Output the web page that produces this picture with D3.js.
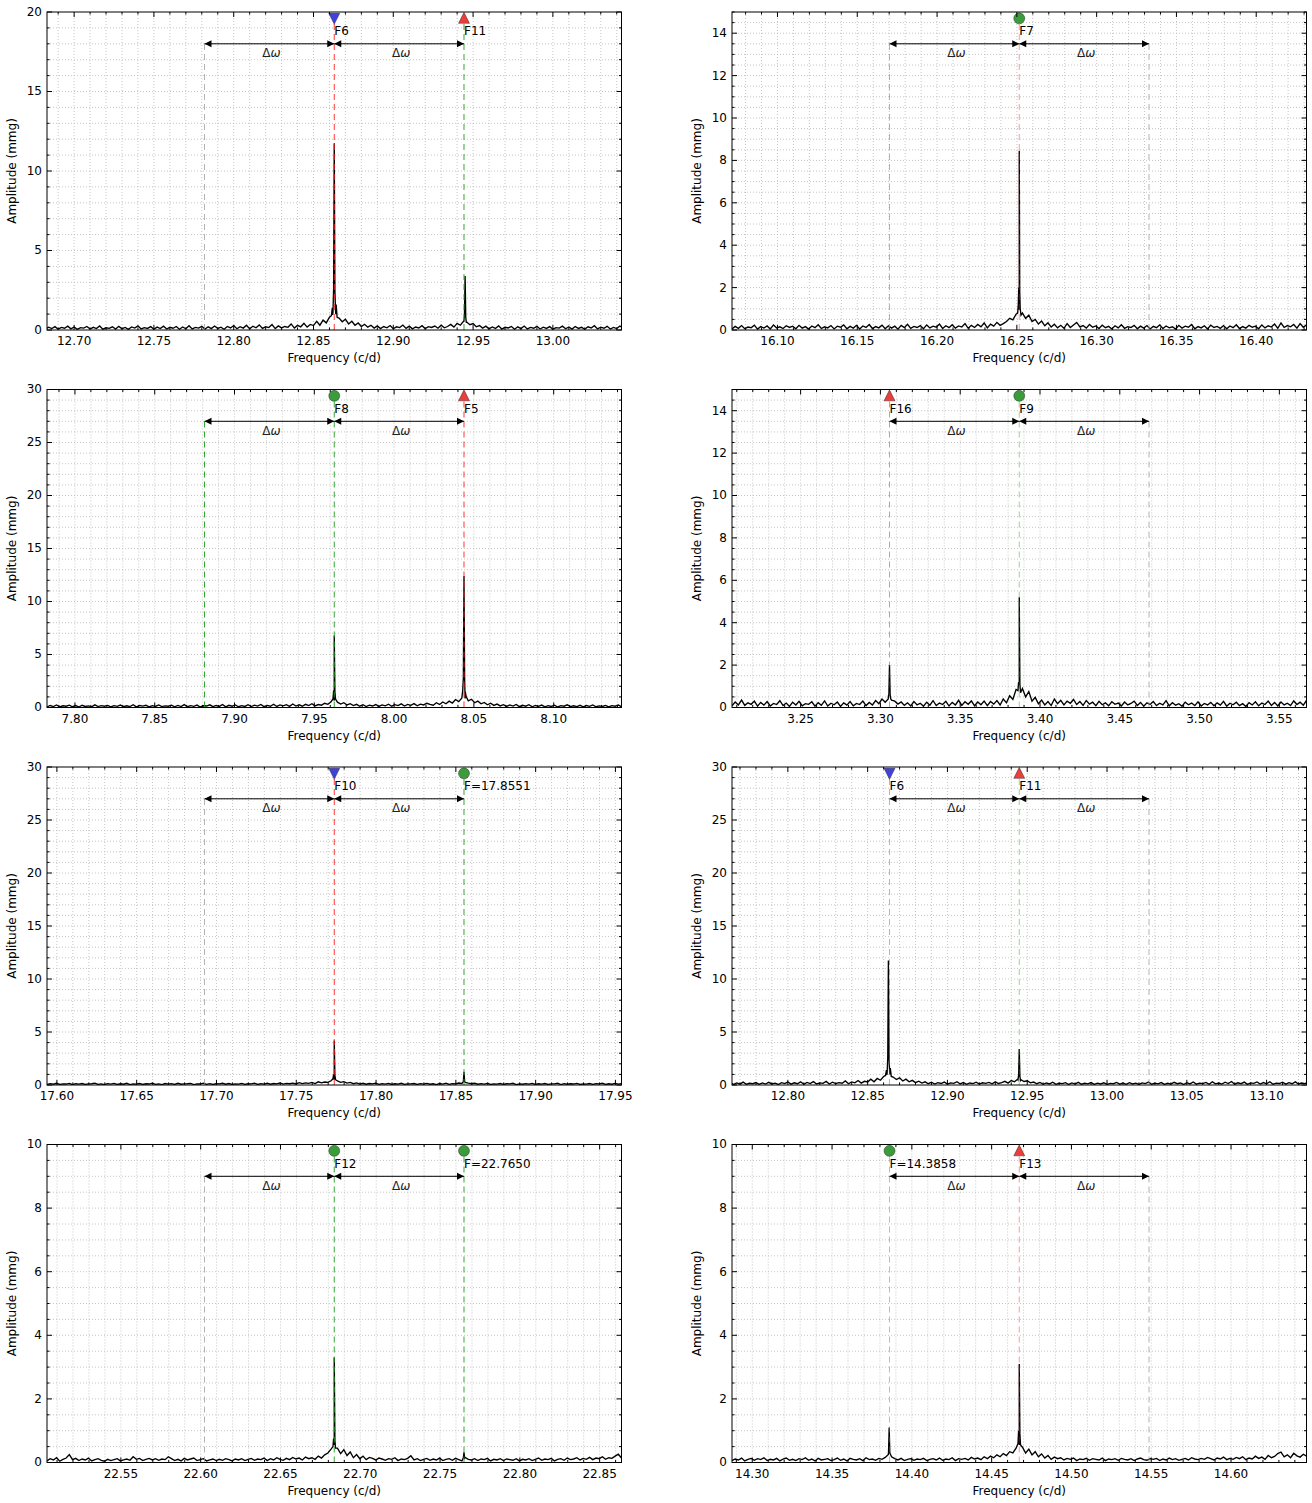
<!DOCTYPE html>
<html><head><meta charset="utf-8">
<script src="https://cdn.jsdelivr.net/npm/d3@7"></script>
<style>body{margin:0;background:#fff}svg{display:block}text{font-family:"DejaVu Sans",sans-serif}</style>
</head><body><svg id="c" width="1312" height="1503"></svg>
<script>
// ---------------- DATA ----------------
const DELTA_OMEGA = 0.0813;
const HALF_SPAN = 0.18;
const CENTERS = [12.863, 16.2515, 7.9625, 3.387, 17.7738, 12.945, 22.6837, 14.4673];
const Y_MAX = [20, 15, 30, 15, 30, 30, 10, 10];
const Y_STEP = [5, 2, 5, 2, 5, 5, 2, 2];
const X_TICKS = [
  ["12.70","12.75","12.80","12.85","12.90","12.95","13.00"],
  ["16.10","16.15","16.20","16.25","16.30","16.35","16.40"],
  ["7.80","7.85","7.90","7.95","8.00","8.05","8.10"],
  ["3.25","3.30","3.35","3.40","3.45","3.50","3.55"],
  ["17.60","17.65","17.70","17.75","17.80","17.85","17.90","17.95"],
  ["12.80","12.85","12.90","12.95","13.00","13.05","13.10"],
  ["22.55","22.60","22.65","22.70","22.75","22.80","22.85"],
  ["14.30","14.35","14.40","14.45","14.50","14.55","14.60"]
];
// dashed line kinds at center-Δω, center, center+Δω
const LINE_KINDS = [
  ["grey","red","green"], ["grey","red","grey"], ["green","green","red"], ["blue","green","grey"],
  ["grey","red","green"], ["red","green","grey"], ["grey","green","green"], ["green","red","grey"]
];
// markers: [slot (-1,0,1), shape, colour, label]
const MARKERS = [
  [[0,"down","blue","F6"],[1,"up","red","F11"]],
  [[0,"circle","green","F7"]],
  [[0,"circle","green","F8"],[1,"up","red","F5"]],
  [[-1,"up","red","F16"],[0,"circle","green","F9"]],
  [[0,"down","blue","F10"],[1,"circle","green","F=17.8551"]],
  [[-1,"down","blue","F6"],[0,"up","red","F11"]],
  [[0,"circle","green","F12"],[1,"circle","green","F=22.7650"]],
  [[-1,"circle","green","F=14.3858"],[0,"up","red","F13"]]
];
const SPEC_STEP = 0.002;
const SPEC_START = [12.682, 16.0715, 7.7825, 3.207, 17.5938, 12.682, 22.5037, 14.2873];

const SPEC_F6F11 = [
.06,.18,.09,.21,.05,.16,.11,.24,.07,.19,.04,.15,.12,.22,.06,.17,.09,.25,.05,.14,
.10,.20,.06,.23,.08,.16,.04,.19,.12,.26,.07,.15,.10,.21,.05,.18,.09,.24,.06,.17,
.11,.22,.05,.19,.08,.27,.07,.16,.12,.23,.06,.20,.09,.25,.10,.18,.05,.22,.13,.28,
.08,.21,.12,.30,.07,.24,.14,.32,.10,.20,.15,.34,.09,.26,.13,.22,.17,.38,.12,.29,
.20,.42,.18,.35,.28,.55,.30,.62,.45,.80,.95,1.0,
.75,.52,.68,.38,.55,.30,.44,.22,.36,.18,
.30,.12,.26,.09,.22,.14,.28,.08,.20,.15,.31,.10,.24,.07,.19,.13,.27,.09,.21,.16,.25,.11,.30,.14,
.22,.35,.18,.42,.30,.55,.50,.33,.40,.20,.28,
.12,.24,.07,.19,.10,.26,.06,.17,.13,.22,.05,.20,.09,.25,.07,.16,.11,.23,.06,.18,.10,.21,.05,.15,
.12,.24,.08,.19,.06,.22,.10,.17,.05,.20,.13,.27,.07,.18,.11,.23,.06,.16,.09,.25,.12,.19,.05,.22,.10,.28,.08,.17,.13,.24,
.07,.30,.11,.19,.09,.26,.14,.33,.08,.21,.12,.27,.06,.20,.15,.29,.09,.23,.11,.31,.07,.18,.14,.26,.08,.22,.12,.30,.10,.19,.13,.27
];
const PEAKS_F6F11 = [[12.8612,.9],[12.8618,1.4],[12.8622,1.1],[12.8626,2.6],[12.863,11.75],[12.8634,2.5],
                     [12.8638,1.2],[12.8642,1.6],[12.8648,.8],
                     [12.9442,.5],[12.9446,.9],[12.945,3.4],[12.9454,.8],[12.9458,.45]];

const SPEC_F7 = [
.05,.17,.08,.21,.06,.14,.11,.23,.04,.16,.09,.19,.05,.24,.10,.15,.07,.20,.12,.18,
.06,.22,.09,.16,.04,.19,.11,.25,.07,.15,.10,.21,.05,.18,.13,.24,.06,.17,.09,.22,
.05,.19,.12,.26,.07,.16,.10,.23,.06,.20,.09,.18,.04,.22,.11,.27,.08,.17,.12,.21,
.06,.24,.10,.18,.13,.28,.07,.20,.11,.25,.09,.19,.14,.30,.08,.22,.12,.26,.15,.33,
.10,.28,.18,.36,.22,.30,.40,.55,.48,.75,.95,
.80,.55,.70,.40,.50,.28,.42,.20,.34,.14,
.27,.10,.22,.08,.30,.12,.24,.36,.15,.21,.09,.26,.13,.19,.07,.23,.11,.17,.05,.20,.10,.25,.08,.16,.12,.22,.06,.18,.09,.21,
.05,.17,.11,.24,.07,.19,.10,.15,.04,.22,.09,.18,.13,.26,.06,.16,.10,.20,.05,.23,.12,.17,.08,.21,.06,.19,.11,.25,.07,.16,
.09,.22,.13,.18,.06,.24,.10,.20,.14,.28,.08,.33,.12,.21,.15,.26,.09,.30,.13,.24
];
const PEAKS_F7 = [[16.2505,.8],[16.2509,1.2],[16.2512,2.0],[16.2515,8.45],[16.2518,1.8],[16.2521,1.0],[16.2526,.7]];

const SPEC_F8F5 = [
.06,.19,.09,.24,.05,.16,.12,.22,.07,.18,.04,.21,.10,.15,.06,.25,.09,.17,.12,.20,
.05,.18,.11,.23,.07,.16,.09,.26,.06,.19,.13,.21,.05,.17,.10,.24,.08,.15,.12,.22,
.06,.20,.09,.27,.07,.18,.11,.23,.05,.16,.14,.25,.08,.19,.10,.28,.06,.21,.12,.24,
.07,.18,.10,.26,.09,.22,.13,.29,.08,.20,.12,.31,.10,.24,.15,.27,.11,.33,.14,.25,
.12,.30,.18,.36,.15,.28,.22,.40,.30,.55,.65,
.50,.32,.45,.24,.36,.18,.30,.12,.26,.09,
.22,.14,.28,.10,.24,.16,.31,.12,.27,.18,.34,.14,.29,.20,.37,.16,.32,.24,.40,.30,
.22,.45,.28,.52,.35,.60,.42,.75,.55,.90,.85,.62,.78,.45,.60,.35,.48,.26,.40,.20,
.32,.15,.27,.10,.24,.13,.29,.08,.21,.12,.26,.07,.19,.11,.23,.06,.17,.10,.22,.05,
.18,.12,.25,.08,.16,.09,.21,.06,.19,.11,.24,.07,.15,.10,.20,.05,.18,.12,.23,.09
];
const PEAKS_F8F5 = [[7.9617,.8],[7.9621,1.6],[7.9625,6.8],[7.9629,1.5],[7.9633,.8],
                    [8.0426,1.1],[8.043,1.6],[8.0434,2.8],[8.0438,12.4],[8.0442,2.7],[8.0446,1.5],[8.0452,1.0]];

const SPEC_F16F9 = [
.08,.26,.12,.35,.10,.22,.15,.30,.06,.24,.11,.28,.07,.19,.14,.32,.09,.21,.05,.25,
.12,.29,.08,.18,.15,.27,.06,.23,.10,.31,.07,.20,.13,.26,.05,.22,.11,.28,.08,.19,
.14,.30,.09,.24,.12,.33,.18,.40,.25,.55,.35,.30,.16,.26,.10,.22,.07,.28,.12,.20,
.06,.25,.11,.32,.09,.21,.14,.29,.07,.24,.12,.34,.10,.27,.15,.31,.08,.26,.13,.30,
.09,.28,.16,.33,.12,.40,.22,.55,.38,.85,1.05,
.90,.50,.75,.30,.48,.18,.35,.12,.28,.09,
.40,.18,.34,.12,.30,.20,.38,.14,.28,.10,.33,.16,.25,.09,.29,.13,.22,.08,.27,.15,
.21,.07,.26,.12,.19,.30,.10,.24,.06,.22,.14,.28,.09,.20,.12,.32,.08,.23,.11,.18,.06,.25,.13,.21,.09,.27,.07,.19,.12,.24,
.08,.22,.11,.29,.06,.20,.13,.25,.09,.18,.05,.23,.12,.27,.08,.21,.14,.30,.10,.24,.07,.26,.12,.20,.09,.31,.14,.25,.11,.33
];
const PEAKS_F16F9 = [[3.3049,.4],[3.3053,.6],[3.3057,2.0],[3.3061,.6],[3.3065,.4],
                     [3.3862,.8],[3.3866,1.2],[3.387,5.2],[3.3874,1.1],[3.3878,.7]];

const SPEC_F10 = [
.04,.13,.07,.16,.05,.11,.09,.15,.03,.12,.08,.14,.05,.10,.12,.17,.06,.11,.04,.13,.09,.15,.05,.12,.07,.16,.04,.10,.08,.14,
.05,.12,.09,.17,.06,.11,.04,.14,.08,.13,.05,.16,.07,.10,.12,.15,.04,.11,.09,.18,.06,.13,.05,.12,.10,.16,.07,.14,.05,.11,
.08,.15,.06,.12,.10,.17,.05,.13,.09,.16,.07,.14,.11,.19,.08,.15,.12,.18,.10,.22,.13,.20,.16,.25,.14,.30,.20,.28,.25,.40,
.48,
.38,.25,.32,.18,.24,.12,.20,.09,.16,.07,.14,.11,.17,.06,.13,.09,.15,.05,.12,.08,.16,.06,.11,.10,.14,.05,.13,.08,.15,.07,
.12,.04,.14,.09,.17,.06,.13,.10,.19,.15,.25,.18,.12,.16,.07,.13,.09,.15,.05,.11,.08,.14,.06,.12,.10,.16,.04,.11,.07,.13,
.09,.15,.05,.12,.08,.14,.06,.11,.10,.16,.04,.13,.07,.12,.09,.15,.05,.11,.08,.14,.06,.13,.10,.16,.05,.12,.07,.15,.09,.13
];
const PEAKS_F10 = [[17.773,.6],[17.7734,1.0],[17.7738,4.2],[17.7742,.9],[17.7746,.5],
                   [17.8547,.3],[17.8551,1.25],[17.8555,.35]];

const SPEC_F12 = [
.05,.12,.08,.15,.04,.10,.14,.25,.09,.13,.06,.11,.08,.14,.05,.09,.12,.07,.04,.10,.06,.09,.12,.05,.08,.11,.07,.18,.10,.13,
.06,.10,.13,.08,.12,.07,.11,.09,.18,.12,.06,.10,.05,.13,.08,.11,.14,.06,.09,.12,.05,.08,.11,.06,.10,.07,.12,.09,.05,.11,
.08,.12,.06,.10,.13,.07,.11,.09,.14,.06,.12,.08,.15,.10,.07,.13,.09,.16,.11,.14,.08,.17,.12,.15,.10,.20,.14,.24,.30,.42,
.55,
.45,.28,.40,.22,.33,.15,.25,.12,.20,.09,.16,.13,.08,.14,.11,.07,.12,.10,.15,.06,.11,.09,.13,.21,.08,.12,.06,.10,.13,.07,
.11,.08,.14,.06,.10,.12,.07,.13,.09,.05,.16,.10,.08,.12,.06,.11,.09,.13,.05,.10,.08,.12,.06,.11,.09,.07,.12,.05,.10,.08,
.12,.06,.10,.14,.07,.11,.09,.13,.05,.10,.12,.07,.14,.09,.11,.15,.08,.13,.10,.16,.09,.14,.12,.18,.10,.15,.13,.20,.26,.14
];
const PEAKS_F12 = [[22.6829,.5],[22.6833,.75],[22.6837,3.3],[22.6841,.7],[22.6845,.45],
                   [22.7646,.15],[22.765,.32],[22.7654,.14]];

const SPEC_F13 = [
.06,.11,.08,.14,.05,.10,.13,.07,.12,.09,.15,.06,.10,.08,.13,.05,.11,.14,.07,.10,.06,.12,.09,.15,.07,.11,.05,.13,.08,.10,
.12,.06,.09,.14,.07,.11,.05,.13,.10,.08,.12,.06,.15,.09,.11,.07,.13,.10,.16,.25,.18,.12,.08,.13,.06,.10,.12,.07,.11,.09,
.13,.06,.10,.12,.08,.14,.07,.11,.09,.15,.06,.12,.10,.13,.08,.16,.11,.14,.09,.18,.12,.20,.15,.24,.18,.28,.22,.34,.30,.45,
.55,
.48,.30,.42,.24,.34,.18,.27,.14,.22,.10,.17,.12,.15,.08,.13,.10,.14,.06,.11,.09,.13,.07,.12,.10,.08,.14,.06,.11,.09,.12,
.07,.13,.10,.08,.12,.06,.11,.14,.09,.07,.12,.10,.13,.06,.11,.08,.14,.09,.12,.07,.10,.13,.08,.15,.11,.09,.13,.10,.16,.12,
.08,.14,.11,.17,.09,.13,.10,.16,.12,.18,.09,.14,.11,.20,.13,.17,.10,.22,.15,.19,.28,.33,.18,.24,.15,.29,.21,.17,.26,.20
];
const PEAKS_F13 = [[14.3854,.35],[14.3858,1.1],[14.3862,.3],
                   [14.4665,.6],[14.4669,1.0],[14.4673,3.1],[14.4677,.9],[14.4681,.55]];

const SPECTRA = [SPEC_F6F11, SPEC_F7, SPEC_F8F5, SPEC_F16F9, SPEC_F10, SPEC_F6F11, SPEC_F12, SPEC_F13];
const PEAKS = [PEAKS_F6F11, PEAKS_F7, PEAKS_F8F5, PEAKS_F16F9, PEAKS_F10, PEAKS_F6F11, PEAKS_F12, PEAKS_F13];

// ---------------- LAYOUT ----------------
const COL_X = [47, 732], PW = 574.5;
const ROW_Y = [12, 389.5, 767, 1144.5], PH = 318;
const COLORS = {red:"#ff2020", green:"#1f9f1f", blue:"#2a2aff", grey:"#9a9a9a"};
const MFILL = {red:"#e8403c", green:"#3c9c3c", blue:"#4242d8"};

const svg = d3.select("#c");
const defs = svg.append("defs");

CENTERS.forEach((c, p) => {
  const col = p % 2, row = Math.floor(p / 2);
  const x0 = COL_X[col], y0 = ROW_Y[row];
  const x = d3.scaleLinear().domain([c - HALF_SPAN, c + HALF_SPAN]).range([x0, x0 + PW]);
  const y = d3.scaleLinear().domain([0, Y_MAX[p]]).range([y0 + PH, y0]);
  const g = svg.append("g");
  const cid = "clip" + p;
  defs.append("clipPath").attr("id", cid).append("rect")
    .attr("x", x0).attr("y", y0).attr("width", PW).attr("height", PH);

  // grid
  const [d0, d1] = x.domain();
  const xMinor = d3.range(Math.ceil(d0 * 100 - 1e-9), Math.floor(d1 * 100 + 1e-9) + 1).map(k => k / 100);
  const xMajor = X_TICKS[p].map(Number);
  const yStep = Y_STEP[p], yMinorStep = yStep === 5 ? 1 : 0.5;
  const yMajor = d3.range(0, Y_MAX[p] + 1e-9, yStep);
  const yMinor = d3.range(0, Y_MAX[p] + 1e-9, yMinorStep);
  const grid = g.append("g");
  grid.selectAll(".gx").data(xMinor).join("line")
    .attr("x1", d => x(d)).attr("x2", d => x(d)).attr("y1", y0).attr("y2", y0 + PH)
    .attr("stroke", "#b8b8b8").attr("stroke-width", 0.8).attr("stroke-dasharray", "1,2");
  grid.selectAll(".gy").data(yMinor.filter(v => v > 0 && v < Y_MAX[p])).join("line")
    .attr("x1", x0).attr("x2", x0 + PW).attr("y1", d => y(d)).attr("y2", d => y(d))
    .attr("stroke", "#b8b8b8").attr("stroke-width", 0.8).attr("stroke-dasharray", "1,2");

  // spectrum
  const pts = SPECTRA[p].map((a, i) => [SPEC_START[p] + i * SPEC_STEP, a])
    .concat(PEAKS[p]).sort((a, b) => a[0] - b[0]);
  const line = d3.line().x(d => x(d[0])).y(d => y(d[1]));
  g.append("path").attr("clip-path", `url(#${cid})`).attr("d", line(pts))
    .attr("fill", "none").attr("stroke", "#000").attr("stroke-width", 1.35).attr("stroke-linejoin", "miter");

  // dashed lines
  const alpha = col === 0 ? 0.9 : 0.45;
  const my = y(0.98 * Y_MAX[p]);
  const ay = y(0.9 * Y_MAX[p]);
  [-1, 0, 1].forEach((k, j) => {
    const f = c + k * DELTA_OMEGA;
    const marked = MARKERS[p].some(m => m[0] === k);
    g.append("line").attr("x1", x(f)).attr("x2", x(f)).attr("y1", y(0)).attr("y2", marked ? my : ay)
      .attr("stroke", COLORS[LINE_KINDS[p][j]]).attr("stroke-width", 1)
      .attr("stroke-dasharray", "6,4").attr("opacity", LINE_KINDS[p][j] === "grey" ? 0.75 : alpha);
  });

  // arrows
  const arrow = (xa, xb) => {
    g.append("line").attr("x1", xa).attr("x2", xb).attr("y1", ay).attr("y2", ay)
      .attr("stroke", "#000").attr("stroke-width", 1);
    g.append("path").attr("d", `M${xa},${ay}L${xa + 7},${ay - 3.5}L${xa + 7},${ay + 3.5}Z`).attr("fill", "#000");
    g.append("path").attr("d", `M${xb},${ay}L${xb - 7},${ay - 3.5}L${xb - 7},${ay + 3.5}Z`).attr("fill", "#000");
    const t = g.append("text").attr("x", (xa + xb) / 2 + 2).attr("y", ay + 13.5)
      .attr("text-anchor", "middle").attr("font-size", 12).attr("fill", "#222");
    t.append("tspan").text("Δ");
    t.append("tspan").attr("font-style", "italic").text("ω");
  };
  arrow(x(c - DELTA_OMEGA), x(c));
  arrow(x(c), x(c + DELTA_OMEGA));

  // markers and labels
  MARKERS[p].forEach(([k, shape, colr, label]) => {
    const mx = x(c + k * DELTA_OMEGA);
    let m;
    if (shape === "circle") m = g.append("circle").attr("cx", mx).attr("cy", my).attr("r", 5.5);
    else if (shape === "up") m = g.append("path").attr("d", `M${mx},${my - 6}L${mx + 5.5},${my + 5}L${mx - 5.5},${my + 5}Z`);
    else m = g.append("path").attr("d", `M${mx},${my + 6}L${mx + 5.5},${my - 5}L${mx - 5.5},${my - 5}Z`);
    m.attr("fill", MFILL[colr]).attr("stroke", "rgba(0,0,0,0.45)").attr("stroke-width", 0.8);
    g.append("text").attr("x", mx).attr("y", ay - 8.5).attr("font-size", 12).attr("fill", "#000").text(label);
  });

  // frame
  g.append("rect").attr("x", x0).attr("y", y0).attr("width", PW).attr("height", PH)
    .attr("fill", "none").attr("stroke", "#000").attr("stroke-width", 1);

  // ticks (inside, all four sides)
  const tk = g.append("g").attr("stroke", "#000").attr("stroke-width", 1);
  xMinor.forEach(v => {
    const maj = xMajor.some(m => Math.abs(m - v) < 1e-6), L = maj ? 5 : 2.5;
    tk.append("line").attr("x1", x(v)).attr("x2", x(v)).attr("y1", y0 + PH).attr("y2", y0 + PH - L);
    tk.append("line").attr("x1", x(v)).attr("x2", x(v)).attr("y1", y0).attr("y2", y0 + L);
  });
  yMinor.forEach(v => {
    const maj = yMajor.some(m => Math.abs(m - v) < 1e-6), L = maj ? 5 : 2.5;
    tk.append("line").attr("x1", x0).attr("x2", x0 + L).attr("y1", y(v)).attr("y2", y(v));
    tk.append("line").attr("x1", x0 + PW).attr("x2", x0 + PW - L).attr("y1", y(v)).attr("y2", y(v));
  });

  // tick labels
  X_TICKS[p].forEach(s => {
    g.append("text").attr("x", x(+s)).attr("y", y0 + PH + 15).attr("text-anchor", "middle")
      .attr("font-size", 12).text(s);
  });
  yMajor.forEach(v => {
    g.append("text").attr("x", x0 - 5).attr("y", y(v)).attr("dy", "0.33em").attr("text-anchor", "end")
      .attr("font-size", 12).text(v);
  });
  g.append("text").attr("x", x0 + PW / 2).attr("y", y0 + PH + 32).attr("text-anchor", "middle")
    .attr("font-size", 12).text("Frequency (c/d)");
  g.append("text").attr("transform", `translate(${x0 - 31},${y0 + PH / 2}) rotate(-90)`)
    .attr("text-anchor", "middle").attr("font-size", 12).text("Amplitude (mmg)");
});
</script></body></html>
